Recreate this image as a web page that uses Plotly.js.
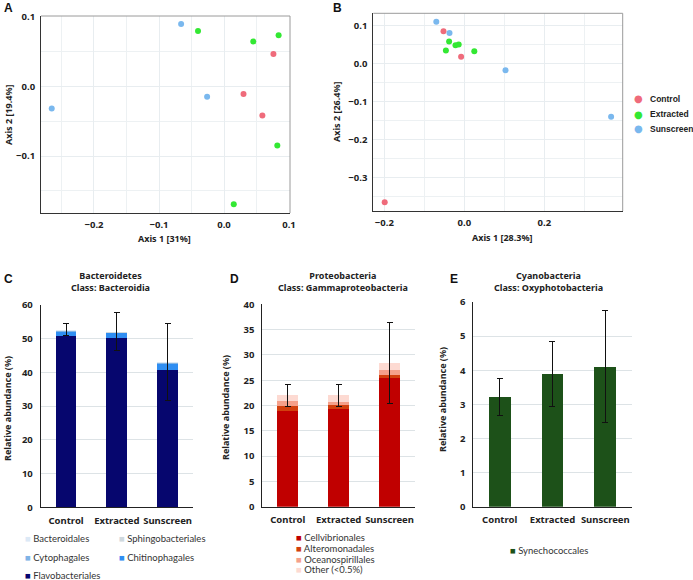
<!DOCTYPE html>
<html><head><meta charset="utf-8">
<script src="https://cdn.plot.ly/plotly-3.0.1.min.js"></script>
<style>html,body{margin:0;padding:0;background:#fff}</style>
</head><body><div id="chart" style="width:693px;height:580px"></div>
<script>
// ---------- DATA ----------
const groups = ['Control', 'Extracted', 'Sunscreen'];
// Panel A (PCoA)
const ctrlA_x = [0.076, 0.030, 0.059];
const ctrlA_y = [0.046, -0.011, -0.042];
const extA_x = [-0.040, 0.045, 0.084, 0.082, 0.015];
const extA_y = [0.079, 0.064, 0.073, -0.085, -0.169];
const sunA_x = [-0.066, -0.026, -0.265];
const sunA_y = [0.089, -0.015, -0.032];
// Panel B (PCoA)
const ctrlB_x = [-0.052, -0.008, -0.199];
const ctrlB_y = [0.086, 0.019, -0.364];
const extB_x = [-0.038, -0.022, -0.014, -0.046, 0.025];
const extB_y = [0.059, 0.049, 0.051, 0.035, 0.033];
const sunB_x = [-0.070, -0.037, 0.103, 0.367];
const sunB_y = [0.111, 0.081, -0.017, -0.139];
// Panel C (Bacteroidia)
const flavobacteriales = [50.6, 50.2, 40.6];
const chitinophagales = [1.3, 1.3, 1.7];
const cytophagales = [0.3, 0.2, 0.4];
const sphingobacteriales = [0.1, 0.1, 0.1];
const bacteroidales = [0.3, 0.2, 0.3];
const errC = [1.7, 5.6, 11.4];
// Panel D (Gammaproteobacteria)
const cellvibrionales = [18.9, 19.4, 25.5];
const alteromonadales = [1.0, 0.6, 0.5];
const oceanospirillales = [1.0, 0.7, 1.0];
const otherGamma = [1.1, 1.3, 1.4];
const errD = [2.15, 2.2, 8.1];
// Panel E (Oxyphotobacteria)
const synechococcales = [3.21, 3.88, 4.10];
const errE = [0.55, 0.95, 1.64];

// ---------- STYLE ----------
const F = 'Noto Sans, DejaVu Sans, sans-serif';
const FL = 'Lato, Liberation Sans, sans-serif';
const W = 693, H = 580;
const px = v => v / W, py = v => 1 - v / H;
const colCtrl = '#ef6b7b', colExt = '#33e833', colSun = '#7ab8ee';

function sc(x, y, color, xa, ya, name) {
  return {type: 'scatter', mode: 'markers', x: x, y: y, xaxis: xa, yaxis: ya, name: name,
    marker: {color: color, size: 6}, showlegend: false, hoverinfo: 'x+y'};
}
function bar(y, color, xa, ya, name, err) {
  const t = {type: 'bar', x: groups, y: y, xaxis: xa, yaxis: ya, name: name,
    marker: {color: color, line: {width: 0}}, showlegend: false};
  if (err) t.error_y = {type: 'data', array: err, visible: true, color: '#111', thickness: 1, width: 3};
  return t;
}

const traces = [
  sc(ctrlA_x, ctrlA_y, colCtrl, 'x', 'y', 'Control'),
  sc(extA_x, extA_y, colExt, 'x', 'y', 'Extracted'),
  sc(sunA_x, sunA_y, colSun, 'x', 'y', 'Sunscreen'),
  sc(ctrlB_x, ctrlB_y, colCtrl, 'x2', 'y2', 'Control'),
  sc(extB_x, extB_y, colExt, 'x2', 'y2', 'Extracted'),
  sc(sunB_x, sunB_y, colSun, 'x2', 'y2', 'Sunscreen'),
  bar(flavobacteriales, '#06066e', 'x3', 'y3', 'Flavobacteriales'),
  bar(chitinophagales, '#2f8ef2', 'x3', 'y3', 'Chitinophagales'),
  bar(cytophagales, '#7fb3e6', 'x3', 'y3', 'Cytophagales'),
  bar(sphingobacteriales, '#cfd8dd', 'x3', 'y3', 'Sphingobacteriales'),
  bar(bacteroidales, '#dce9f6', 'x3', 'y3', 'Bacteroidales', errC),
  bar(cellvibrionales, '#c00000', 'x4', 'y4', 'Cellvibrionales'),
  bar(alteromonadales, '#d2400e', 'x4', 'y4', 'Alteromonadales'),
  bar(oceanospirillales, '#f5a08a', 'x4', 'y4', 'Oceanospirillales'),
  bar(otherGamma, '#fddad2', 'x4', 'y4', 'Other (<0.5%)', errD),
  bar(synechococcales, '#1d5119', 'x5', 'y5', 'Synechococcales', errE)
];

const tickF = {family: F, size: 9.5, color: '#222', weight: 'bold'};
function scAxis(domain, range, dtick, minor, anchor) {
  return {domain: domain, range: range, dtick: dtick, tick0: 0, anchor: anchor,
    showline: true, linecolor: '#333', linewidth: 1, zeroline: false,
    showgrid: true, gridcolor: '#e8edf0', gridwidth: 1,
    minor: {dtick: minor, tick0: 0, showgrid: true, gridcolor: '#edf1f3'},
    tickfont: tickF, ticks: '', ticklabelstandoff: 3, fixedrange: true};
}
function barY(domain, range, dtick, anchor) {
  return {domain: domain, range: range, dtick: dtick, tick0: 0, anchor: anchor,
    showline: true, linecolor: '#222', linewidth: 1, zeroline: false,
    showgrid: true, gridcolor: '#dde3e6', gridwidth: 1,
    tickfont: tickF, ticks: '', ticklabelstandoff: 5};
}
function barX(domain, anchor) {
  return {domain: domain, range: [-0.5, 2.5], type: 'category', anchor: anchor,
    showline: true, linecolor: '#222', linewidth: 1, showgrid: false,
    tickfont: {family: F, size: 9.5, color: '#222', weight: 'bold'}, ticks: '', ticklabelstandoff: 4};
}

const ann = [];
function A(text, x, y, opts) {
  ann.push(Object.assign({text: text, x: px(x), y: py(y), xref: 'paper', yref: 'paper',
    showarrow: false, xanchor: 'center', yanchor: 'middle',
    font: {family: F, size: 9, color: '#222', weight: 'bold'}}, opts || {}));
}
// panel letters
const letterFont = {family: 'Liberation Sans, Arial, sans-serif', size: 12, color: '#111', weight: 'bold'};
A('A', 8, 8, {font: letterFont});
A('B', 337, 8, {font: letterFont});
A('C', 8, 279, {font: letterFont});
A('D', 234, 279, {font: letterFont});
A('E', 454, 279, {font: letterFont});
// scatter axis titles
A('Axis 1 [31%]', 164, 238);
A('Axis 2 [19.4%]', 8, 115, {textangle: -90});
A('Axis 1 [28.3%]', 502, 237);
A('Axis 2 [26.4%]', 337, 112, {textangle: -90});
// B legend
const legB = [['Control', colCtrl, 99], ['Extracted', colExt, 114], ['Sunscreen', colSun, 129]];
legB.forEach(function (d) {
  A('<span style="color:' + d[1] + '">●</span>', 638, d[2], {font: {family: 'DejaVu Sans, sans-serif', size: 10, color: d[1]}});
  A(d[0], 648, d[2], {xanchor: 'left', font: {family: 'Liberation Sans, Arial, sans-serif', size: 8.5, color: '#222', weight: 'bold'}});
});
// bar panel titles
A('Bacteroidetes<br>Class: Bacteroidia', 111, 281);
A('Proteobacteria<br>Class: Gammaproteobacteria', 343, 281);
A('Cyanobacteria<br>Class: Oxyphotobacteria', 548, 281);
// bar y titles
A('Relative abundance (%)', 7, 409, {textangle: -90});
A('Relative abundance (%)', 225, 408, {textangle: -90});
A('Relative abundance (%)', 442, 400, {textangle: -90});
// bar legends
function L(name, color, x, y) {
  A('<span style="color:' + color + '">■</span> ' + name, x, y,
    {xanchor: 'left', font: {family: FL, size: 9.5, color: '#333'}});
}
L('Bacteroidales', '#dce9f6', 23, 538);
L('Sphingobacteriales', '#cfd8dd', 117, 538);
L('Cytophagales', '#7fb3e6', 23, 557);
L('Chitinophagales', '#2f8ef2', 117, 557);
L('Flavobacteriales', '#06066e', 23, 575);
L('Cellvibrionales', '#c00000', 294, 537);
L('Alteromonadales', '#d2400e', 294, 548);
L('Oceanospirillales', '#f5a08a', 294, 559);
L('Other (&lt;0.5%)', '#fddad2', 294, 569.5);
L('Synechococcales', '#1d5119', 508, 550);

// light top/right borders for scatter panels
const shapes = [];
['', '2'].forEach(function (s) {
  shapes.push({type: 'line', xref: 'x' + s + ' domain', yref: 'y' + s + ' domain', x0: 0, x1: 1, y0: 1, y1: 1, line: {color: '#9a9a9a', width: 1}});
  shapes.push({type: 'line', xref: 'x' + s + ' domain', yref: 'y' + s + ' domain', x0: 1, x1: 1, y0: 0, y1: 1, line: {color: '#9a9a9a', width: 1}});
});

const layout = {
  width: W, height: H, margin: {l: 0, r: 0, t: 0, b: 0},
  paper_bgcolor: '#fff', plot_bgcolor: '#fff', showlegend: false,
  barmode: 'stack', bargap: 0.59,
  xaxis: scAxis([px(41), px(290)], [-0.2815, 0.1015], 0.1, 0.05, 'y'),
  yaxis: scAxis([py(213), py(16)], [-0.1815, 0.1005], 0.1, 0.05, 'x'),
  xaxis2: scAxis([px(373.3), px(622.7)], [-0.2275, 0.396], 0.2, 0.1, 'y2'),
  yaxis2: scAxis([py(211), py(13.3)], [-0.387, 0.133], 0.1, 0.05, 'x2'),
  xaxis3: barX([px(40.7), px(193)], 'y3'),
  yaxis3: barY([py(507.3), py(304.7)], [0, 60], 10, 'x3'),
  xaxis4: barX([px(262.3), px(415)], 'y4'),
  yaxis4: barY([py(506.7), py(304.3)], [0, 40], 5, 'x4'),
  xaxis5: barX([px(473.3), px(631.7)], 'y5'),
  yaxis5: barY([py(506.7), py(302)], [0, 6], 1, 'x5'),
  annotations: ann, shapes: shapes
};
['xaxis', 'yaxis', 'xaxis2', 'yaxis2'].forEach(function (k) { layout[k].tickformat = '.1f'; });

Plotly.newPlot('chart', traces, layout, {staticPlot: true, displayModeBar: false});
</script></body></html>
